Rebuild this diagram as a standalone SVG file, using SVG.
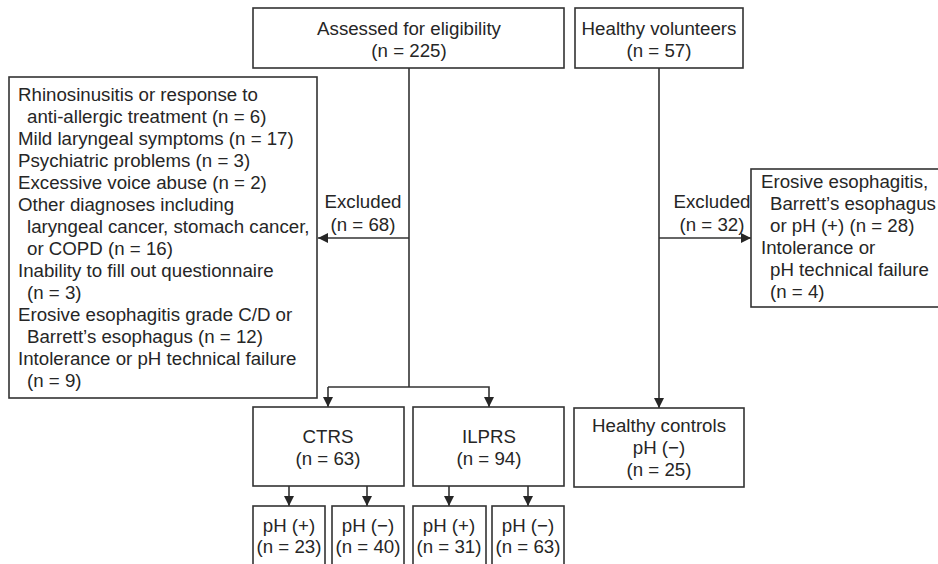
<svg xmlns="http://www.w3.org/2000/svg" width="938" height="564" viewBox="0 0 938 564">
<style>
.box{fill:#fff;stroke:#333;stroke-width:1.6}
.ln{fill:none;stroke:#333;stroke-width:1.6}
text{font-family:"Liberation Sans",Arial,sans-serif;font-size:18.7px;fill:#262626}
.c{text-anchor:middle}
</style>
<defs>
<marker id="ah" viewBox="0 0 10 10" refX="10" refY="5" markerWidth="10" markerHeight="10" markerUnits="userSpaceOnUse" orient="auto">
<path d="M0,0 L10,5 L0,10 z" fill="#262626"/>
</marker>
</defs>
<rect width="938" height="564" fill="#fff"/>
<g id="connectors">
<line class="ln" x1="409" y1="68" x2="409" y2="387"/>
<line class="ln" x1="409" y1="238" x2="318" y2="238" marker-end="url(#ah)"/>
<polyline class="ln" points="328,387 489,387 489,407" marker-end="url(#ah)"/>
<line class="ln" x1="328" y1="387" x2="328" y2="407" marker-end="url(#ah)"/>
<line class="ln" x1="659" y1="68" x2="659" y2="408" marker-end="url(#ah)"/>
<line class="ln" x1="659" y1="238" x2="751" y2="238" marker-end="url(#ah)"/>
<line class="ln" x1="289" y1="486" x2="289" y2="506" marker-end="url(#ah)"/>
<line class="ln" x1="367" y1="486" x2="367" y2="506" marker-end="url(#ah)"/>
<line class="ln" x1="449" y1="486" x2="449" y2="506" marker-end="url(#ah)"/>
<line class="ln" x1="528" y1="486" x2="528" y2="506" marker-end="url(#ah)"/>
<text class="c" x="363" y="208">Excluded</text>
<text class="c" x="363" y="231">(n = 68)</text>
<text class="c" x="712" y="208">Excluded</text>
<text class="c" x="712" y="231">(n = 32)</text>
</g>
<g id="assessed">
<rect class="box" x="253" y="8" width="311" height="60"/>
<text class="c" x="409" y="35">Assessed for eligibility</text>
<text class="c" x="409" y="57">(n = 225)</text>
</g>
<g id="volunteers">
<rect class="box" x="575" y="8" width="168" height="60"/>
<text class="c" x="659" y="35">Healthy volunteers</text>
<text class="c" x="659" y="57">(n = 57)</text>
</g>
<g id="excluded-left">
<rect class="box" x="9" y="77" width="308" height="321"/>
<text x="18" y="101">Rhinosinusitis or response to</text>
<text x="27" y="123">anti-allergic treatment (n = 6)</text>
<text x="18" y="145">Mild laryngeal symptoms (n = 17)</text>
<text x="18" y="167">Psychiatric problems (n = 3)</text>
<text x="18" y="189">Excessive voice abuse (n = 2)</text>
<text x="18" y="211">Other diagnoses including</text>
<text x="27" y="233">laryngeal cancer, stomach cancer,</text>
<text x="27" y="255">or COPD (n = 16)</text>
<text x="18" y="277">Inability to fill out questionnaire</text>
<text x="27" y="299">(n = 3)</text>
<text x="18" y="321">Erosive esophagitis grade C/D or</text>
<text x="27" y="343">Barrett’s esophagus (n = 12)</text>
<text x="18" y="365">Intolerance or pH technical failure</text>
<text x="27" y="387">(n = 9)</text>
</g>
<g id="excluded-right">
<rect class="box" x="751" y="169" width="200" height="138"/>
<text x="761" y="188">Erosive esophagitis,</text>
<text x="770" y="210">Barrett’s esophagus</text>
<text x="770" y="232">or pH (+) (n = 28)</text>
<text x="761" y="254">Intolerance or</text>
<text x="770" y="276">pH technical failure</text>
<text x="770" y="298">(n = 4)</text>
</g>
<g id="ctrs">
<rect class="box" x="253" y="407" width="151" height="79"/>
<text class="c" x="328" y="443">CTRS</text>
<text class="c" x="328" y="465">(n = 63)</text>
</g>
<g id="ilprs">
<rect class="box" x="413" y="407" width="151" height="79"/>
<text class="c" x="489" y="443">ILPRS</text>
<text class="c" x="489" y="465">(n = 94)</text>
</g>
<g id="controls">
<rect class="box" x="574" y="408" width="170" height="79"/>
<text class="c" x="659" y="432">Healthy controls</text>
<text class="c" x="659" y="454">pH (−)</text>
<text class="c" x="659" y="476">(n = 25)</text>
</g>
<g id="ctrs-pos">
<rect class="box" x="253" y="506" width="72" height="70"/>
<text class="c" x="289" y="532">pH (+)</text>
<text class="c" x="289" y="553">(n = 23)</text>
</g>
<g id="ctrs-neg">
<rect class="box" x="332" y="506" width="72" height="70"/>
<text class="c" x="368" y="532">pH (−)</text>
<text class="c" x="368" y="553">(n = 40)</text>
</g>
<g id="ilprs-pos">
<rect class="box" x="413" y="506" width="73" height="70"/>
<text class="c" x="449" y="532">pH (+)</text>
<text class="c" x="449" y="553">(n = 31)</text>
</g>
<g id="ilprs-neg">
<rect class="box" x="492" y="506" width="72" height="70"/>
<text class="c" x="528" y="532">pH (−)</text>
<text class="c" x="528" y="553">(n = 63)</text>
</g>
</svg>
